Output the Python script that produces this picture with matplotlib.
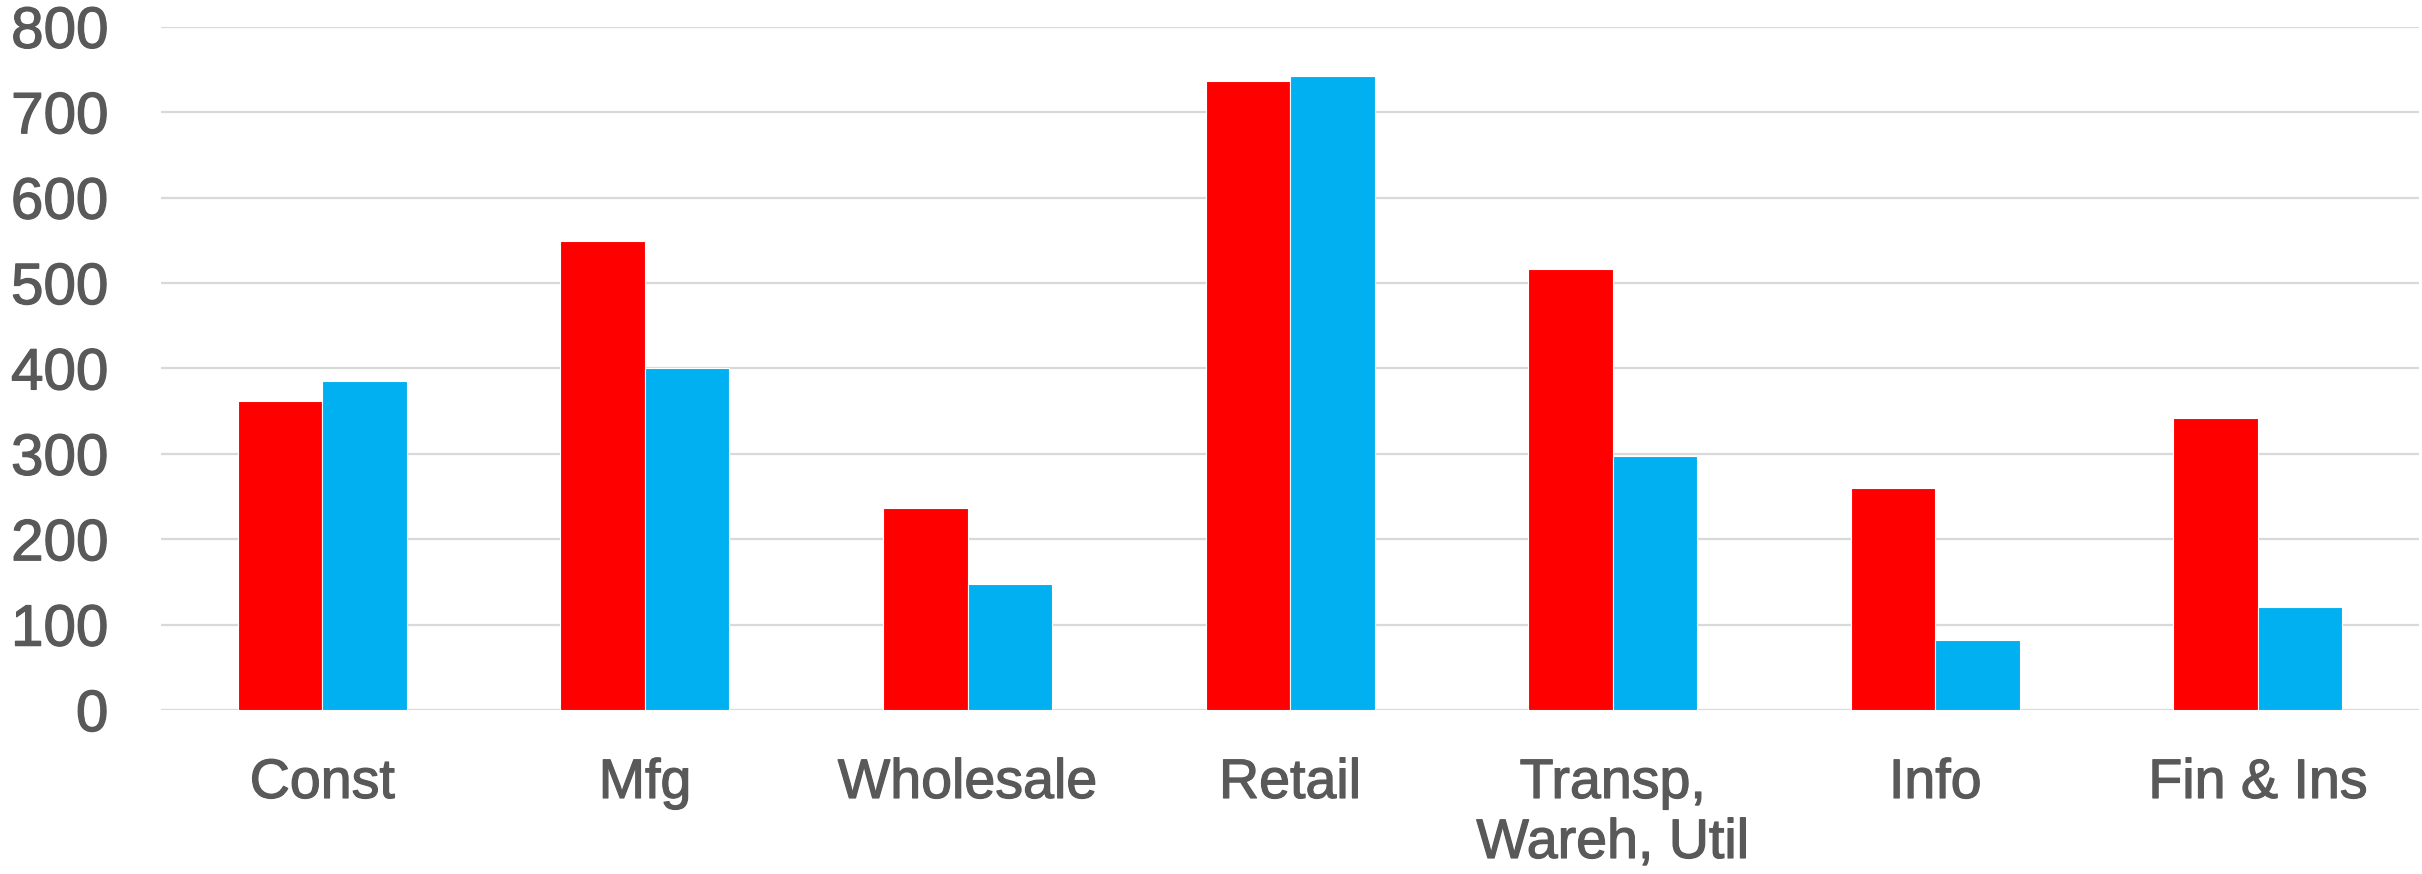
import matplotlib
matplotlib.use("Agg")
import matplotlib.pyplot as plt
import matplotlib.patheffects as pe
import numpy as np

# industries and the two series
categories = ["Const", "Mfg", "Wholesale", "Retail", "Transp,\nWareh, Util", "Info", "Fin & Ins"]
red_values = [362, 549, 236, 736, 517, 260, 342]
blue_values = [385, 401, 148, 742, 298, 82, 121]
y_ticks = [0, 100, 200, 300, 400, 500, 600, 700, 800]

plt.rcParams['font.family'] = ['Liberation Sans', 'DejaVu Sans']

fig = plt.figure(figsize=(24.22, 8.74), dpi=100)
ax = fig.add_axes([0.0665, 0.1876, 0.9323, 0.7817])

x = np.arange(len(categories))
w = 0.262
ax.bar(x - w / 2, red_values, w, color="#FF0000", edgecolor="white", linewidth=0.8, zorder=3)
ax.bar(x + w / 2, blue_values, w, color="#00B0F0", edgecolor="white", linewidth=0.8, zorder=3)

ax.set_xlim(-0.5, len(categories) - 0.5)
ax.set_ylim(0, 800)
ax.set_yticks(y_ticks)
ax.set_xticks(x)
ax.set_xticklabels(categories, linespacing=1.2)

ax.yaxis.grid(True, color="#D9D9D9", linewidth=1.6, zorder=0)
ax.set_axisbelow(True)
for s in ax.spines.values():
    s.set_visible(False)
ax.tick_params(axis="both", length=0, labelcolor="#595959")
ax.tick_params(axis="y", pad=38, labelsize=42)
ax.tick_params(axis="x", pad=34.5, labelsize=40)

# the original font is a bit heavier than Liberation Sans, thicken slightly
for lbl in ax.get_xticklabels() + ax.get_yticklabels():
    lbl.set_path_effects([pe.withStroke(linewidth=0.9, foreground="#595959")])

fig.savefig("out.png", dpi=100)
